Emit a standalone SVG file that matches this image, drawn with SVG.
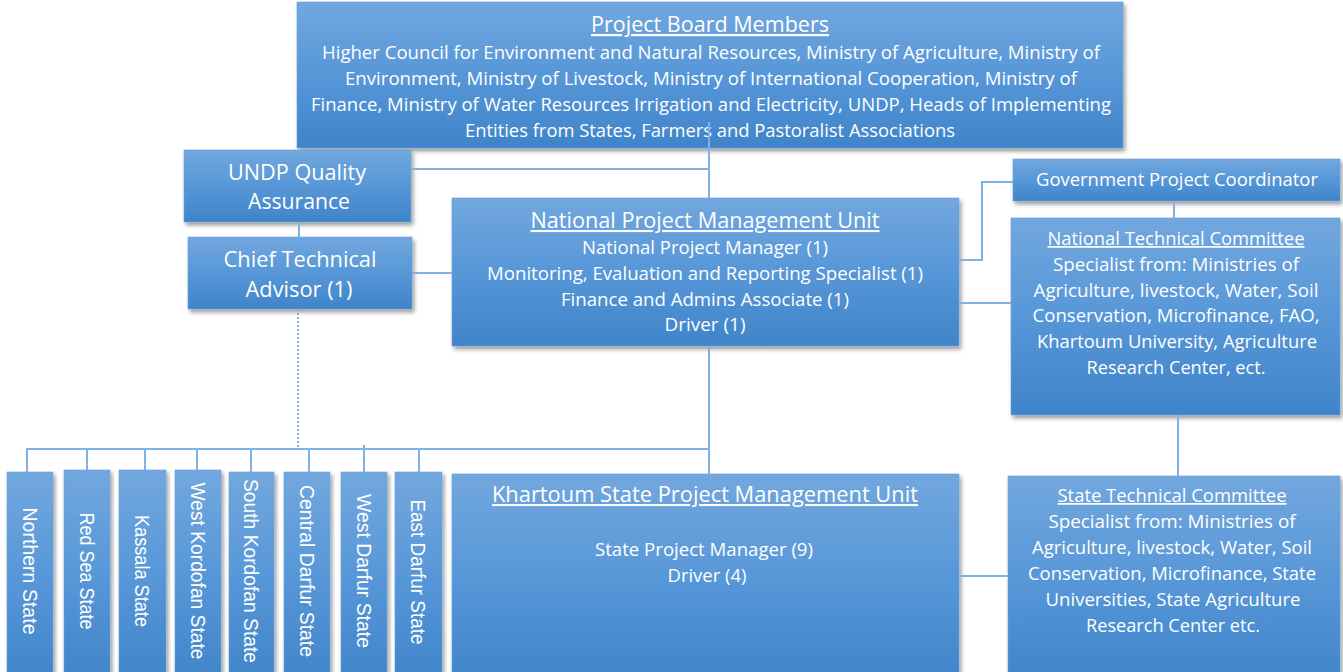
<svg xmlns="http://www.w3.org/2000/svg" width="1343" height="672" viewBox="0 0 1343 672">
<defs>
<linearGradient id="g" x1="0" y1="0" x2="0" y2="1">
<stop offset="0" stop-color="#72a7de"/>
<stop offset="0.5" stop-color="#5797d8"/>
<stop offset="1" stop-color="#3f84c9"/>
</linearGradient>
<filter id="sh" x="-10%" y="-10%" width="120%" height="130%">
<feDropShadow dx="2" dy="3" stdDeviation="2" flood-color="#000" flood-opacity="0.4"/>
</filter>
<style>
.box{fill:url(#g);filter:url(#sh);stroke:#6aa0d8;stroke-width:0.6}
text{font-family:"Open Sans","Liberation Sans",Arial,sans-serif;fill:#ffffff;text-anchor:middle}
.t{font-size:17.5px}
.u{text-decoration:underline}
.h{font-size:21px;text-decoration:underline}
.b{font-size:22px}
.s{font-family:"Liberation Sans",Arial,sans-serif;font-size:19.5px}
.c{fill:none;stroke:#80b1e2;stroke-width:2}
.d{fill:none;stroke:#80b1e2;stroke-width:2;stroke-dasharray:2 2}
</style>
</defs>
<rect width="1343" height="672" fill="#ffffff"/>

<g id="board">
<rect class="box" x="297" y="2" width="826" height="146"/>
<text class="h" x="710" y="32" style="font-size:22px" textLength="238" lengthAdjust="spacingAndGlyphs">Project Board Members</text>
<text class="t" x="711" y="59" textLength="778" lengthAdjust="spacingAndGlyphs">Higher Council for Environment and Natural Resources, Ministry of Agriculture, Ministry of</text>
<text class="t" x="711" y="85" textLength="732" lengthAdjust="spacingAndGlyphs">Environment, Ministry of Livestock, Ministry of International Cooperation, Ministry of</text>
<text class="t" x="711" y="111" textLength="800" lengthAdjust="spacingAndGlyphs">Finance, Ministry of Water Resources Irrigation and Electricity, UNDP, Heads of Implementing</text>
<text class="t" x="710" y="137" textLength="490" lengthAdjust="spacingAndGlyphs">Entities from States, Farmers and Pastoralist Associations</text>
</g>

<g id="undp-qa">
<rect class="box" x="184" y="150" width="227" height="72"/>
<text class="b" x="297" y="180" textLength="138" lengthAdjust="spacingAndGlyphs">UNDP Quality</text>
<text class="b" x="299" y="209" textLength="102" lengthAdjust="spacingAndGlyphs">Assurance</text>
</g>

<g id="cta">
<rect class="box" x="188" y="237" width="224" height="72"/>
<text class="b" x="300" y="267" textLength="153" lengthAdjust="spacingAndGlyphs">Chief Technical</text>
<text class="b" x="299" y="297" textLength="107" lengthAdjust="spacingAndGlyphs">Advisor (1)</text>
</g>

<g id="npmu">
<rect class="box" x="452" y="198" width="507" height="148"/>
<text class="h" x="705" y="228" textLength="349" lengthAdjust="spacingAndGlyphs">National Project Management Unit</text>
<text class="t" x="705" y="254" textLength="246" lengthAdjust="spacingAndGlyphs">National Project Manager (1)</text>
<text class="t" x="705" y="280" textLength="436" lengthAdjust="spacingAndGlyphs">Monitoring, Evaluation and Reporting Specialist (1)</text>
<text class="t" x="705" y="306" textLength="288" lengthAdjust="spacingAndGlyphs">Finance and Admins Associate (1)</text>
<text class="t" x="705" y="331" textLength="81" lengthAdjust="spacingAndGlyphs">Driver (1)</text>
</g>

<g id="gpc">
<rect class="box" x="1013" y="159" width="327" height="42"/>
<text class="t" x="1177" y="186" textLength="282" lengthAdjust="spacingAndGlyphs">Government Project Coordinator</text>
</g>

<g id="ntc">
<rect class="box" x="1011" y="218" width="329" height="197"/>
<text class="t u" x="1176" y="245" textLength="257" lengthAdjust="spacingAndGlyphs">National Technical Committee</text>
<text class="t" x="1176" y="271" textLength="246" lengthAdjust="spacingAndGlyphs">Specialist from:  Ministries of</text>
<text class="t" x="1176" y="297" textLength="285" lengthAdjust="spacingAndGlyphs">Agriculture, livestock, Water,  Soil</text>
<text class="t" x="1176" y="322" textLength="287" lengthAdjust="spacingAndGlyphs">Conservation, Microfinance, FAO,</text>
<text class="t" x="1177" y="348" textLength="280" lengthAdjust="spacingAndGlyphs">Khartoum University, Agriculture</text>
<text class="t" x="1176" y="374" textLength="179" lengthAdjust="spacingAndGlyphs">Research Center, ect.</text>
</g>

<g id="khartoum">
<rect class="box" x="452" y="474" width="507" height="210"/>
<text class="h" x="705" y="502" textLength="426" lengthAdjust="spacingAndGlyphs"> Khartoum State Project Management Unit</text>
<text class="t" x="704" y="556" textLength="218" lengthAdjust="spacingAndGlyphs">State Project Manager (9)</text>
<text class="t" x="707" y="582" textLength="79" lengthAdjust="spacingAndGlyphs">Driver (4)</text>
</g>

<g id="stc">
<rect class="box" x="1008" y="476" width="332" height="210"/>
<text class="t u" x="1172" y="502" textLength="229" lengthAdjust="spacingAndGlyphs">State Technical Committee</text>
<text class="t" x="1172" y="528" textLength="247" lengthAdjust="spacingAndGlyphs">Specialist from: Ministries of</text>
<text class="t" x="1172" y="554" textLength="280" lengthAdjust="spacingAndGlyphs">Agriculture, livestock, Water, Soil</text>
<text class="t" x="1172" y="580" textLength="288" lengthAdjust="spacingAndGlyphs">Conservation, Microfinance, State</text>
<text class="t" x="1173" y="606" textLength="255" lengthAdjust="spacingAndGlyphs">Universities, State Agriculture</text>
<text class="t" x="1173" y="632" textLength="174" lengthAdjust="spacingAndGlyphs">Research Center etc.</text>
</g>

<g id="northern">
<rect class="box" x="7" y="472" width="46" height="212"/>
<text class="s" x="30" y="571" dy="0.35em" transform="rotate(90 30 571)" textLength="127" lengthAdjust="spacingAndGlyphs">Northern State</text>
</g>
<g id="red-sea">
<rect class="box" x="64" y="470" width="46" height="214"/>
<text class="s" x="87" y="571" dy="0.35em" transform="rotate(90 87 571)" textLength="117" lengthAdjust="spacingAndGlyphs">Red Sea State</text>
</g>
<g id="kassala">
<rect class="box" x="119" y="470" width="47" height="214"/>
<text class="s" x="142" y="571" dy="0.35em" transform="rotate(90 142 571)" textLength="112" lengthAdjust="spacingAndGlyphs">Kassala State</text>
</g>
<g id="west-kordofan">
<rect class="box" x="175" y="470" width="46" height="214"/>
<text class="s" x="198" y="571" dy="0.35em" transform="rotate(90 198 571)" textLength="177" lengthAdjust="spacingAndGlyphs">West Kordofan State</text>
</g>
<g id="south-kordofan">
<rect class="box" x="229" y="472" width="45" height="212"/>
<text class="s" x="251" y="571" dy="0.35em" transform="rotate(90 251 571)" textLength="184" lengthAdjust="spacingAndGlyphs">South Kordofan State</text>
</g>
<g id="central-darfur">
<rect class="box" x="284" y="472" width="46" height="212"/>
<text class="s" x="307" y="571" dy="0.35em" transform="rotate(90 307 571)" textLength="172" lengthAdjust="spacingAndGlyphs">Central Darfur State</text>
</g>
<g id="west-darfur">
<rect class="box" x="341" y="472" width="46" height="212"/>
<text class="s" x="364" y="571" dy="0.35em" transform="rotate(90 364 571)" textLength="154" lengthAdjust="spacingAndGlyphs">West Darfur State</text>
</g>
<g id="east-darfur">
<rect class="box" x="395" y="472" width="47" height="212"/>
<text class="s" x="418" y="572" dy="0.35em" transform="rotate(90 418 572)" textLength="145" lengthAdjust="spacingAndGlyphs">East Darfur State</text>
</g>

<g id="connectors">
<path class="c" d="M709 122 V198"/>
<path class="c" d="M411 169 H709"/>
<path class="c" d="M299 222 V237"/>
<path class="c" d="M412 273 H452"/>
<path class="d" d="M298 309 V448"/>
<path class="c" d="M709 346 V474"/>
<path class="c" d="M27 472 V449 H709"/>
<path class="c" d="M87 449 V470 M145 449 V470 M197 449 V470 M251 449 V472 M309 449 V472 M364 445 V472 M419 449 V472"/>
<path class="c" d="M959 260 H982 V182 H1013"/>
<path class="c" d="M959 303 H1011"/>
<path class="c" d="M1174 201 V218"/>
<path class="c" d="M1178 415 V476"/>
<path class="c" d="M959 576 H1008"/>
</g>
</svg>
